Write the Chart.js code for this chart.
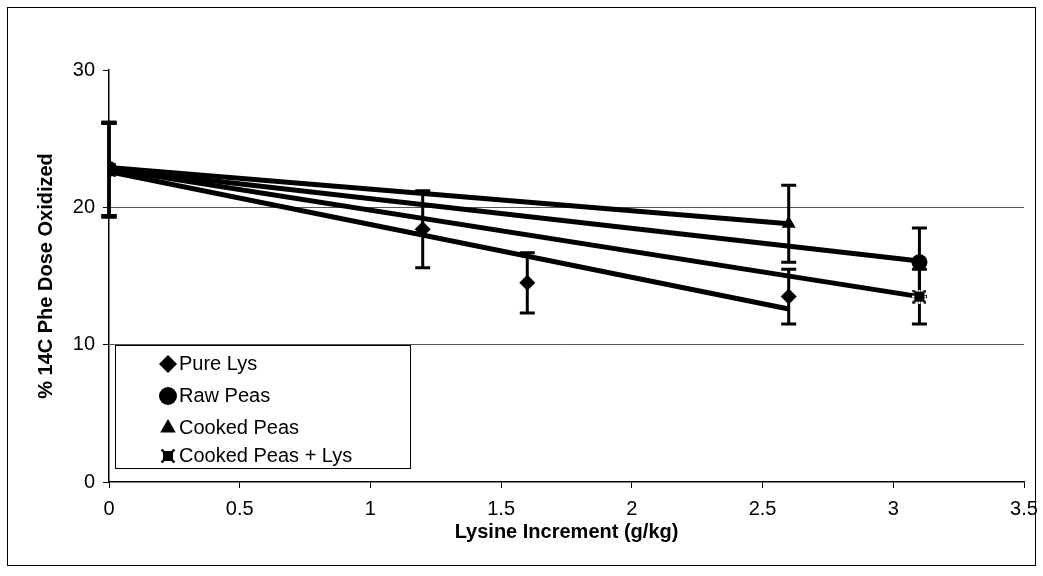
<!DOCTYPE html>
<html>
<head>
<meta charset="utf-8">
<script src="https://cdn.jsdelivr.net/npm/chart.js@4"></script>
<style>
  html, body { margin: 0; padding: 0; background: #fff; }
  #wrap { width: 1043px; height: 576px; position: relative; }
</style>
</head>
<body>
<div id="wrap"><canvas id="c" width="1043" height="576"></canvas></div>
<script>
// ---- data ----
const seriesNames = ['Pure Lys', 'Raw Peas', 'Cooked Peas', 'Cooked Peas + Lys'];

const pureLysX   = [0, 1.2, 1.6, 2.6];
const pureLysY   = [22.7, 18.4, 14.5, 13.5];
const pureLysErr = [3.4, 2.8, 2.2, 2.0];

const rawPeasX   = [0, 3.1];
const rawPeasY   = [22.8, 16.0];
const rawPeasErr = [3.4, 2.5];

const cookedPeasX   = [0, 2.6];
const cookedPeasY   = [22.8, 18.8];
const cookedPeasErr = [3.4, 2.8];

const cookedLysX   = [0, 3.1];
const cookedLysY   = [22.7, 13.5];
const cookedLysErr = [3.4, 2.0];

// trend lines (start / end values)
const pureLysTrendX = [0, 2.6];    const pureLysTrendY = [22.6, 12.6];
const rawPeasTrendX = [0, 3.1];    const rawPeasTrendY = [22.8, 16.1];
const cookedPeasTrendX = [0, 2.6]; const cookedPeasTrendY = [22.9, 18.8];
const cookedLysTrendX = [0, 3.1];  const cookedLysTrendY = [22.8, 13.5];

const xTickLabels = ['0', '0.5', '1', '1.5', '2', '2.5', '3', '3.5'];
const yTickLabels = ['0', '10', '20', '30'];

const xTitle = 'Lysine Increment (g/kg)';
const yTitle = '% 14C Phe Dose Oxidized';

// ---- helpers ----
const FONT = "'Liberation Sans', Arial, sans-serif";
function pts(xs, ys, errs) {
  return xs.map((x, i) => ({ x: x, y: ys[i], e: errs ? errs[i] : 0 }));
}
function makeCross() {
  const c = document.createElement('canvas');
  c.width = 14; c.height = 14;
  const g = c.getContext('2d');
  g.fillStyle = '#000';
  g.fillRect(2, 2, 10, 10);
  g.strokeStyle = '#000';
  g.lineWidth = 2.5;
  g.beginPath();
  g.moveTo(0.5, 0.5); g.lineTo(13.5, 13.5);
  g.moveTo(13.5, 0.5); g.lineTo(0.5, 13.5);
  g.stroke();
  g.fillStyle = '#fff';
  g.fillRect(6, 0, 2, 2); g.fillRect(6, 12, 2, 2);
  g.fillRect(0, 6, 2, 2); g.fillRect(12, 6, 2, 2);
  return c;
}
const crossImg = makeCross();

const markerStyles = ['rectRot', 'circle', 'triangle', crossImg];
const markerRadii = [8, 8, 8, 7];

function scatterDs(label, data, style, r) {
  return {
    type: 'scatter', label: label, data: data, showLine: false,
    pointStyle: style, pointRadius: r, pointHoverRadius: r,
    backgroundColor: '#000', borderColor: '#000', borderWidth: 0,
    isSeries: true, order: 0
  };
}
function trendDs(data) {
  return {
    type: 'line', data: data, showLine: true, pointRadius: 0,
    borderColor: '#000', borderWidth: 5, fill: false, isTrend: true, order: 2
  };
}

const datasets = [
  trendDs(pts(pureLysTrendX, pureLysTrendY)),
  trendDs(pts(rawPeasTrendX, rawPeasTrendY)),
  trendDs(pts(cookedPeasTrendX, cookedPeasTrendY)),
  trendDs(pts(cookedLysTrendX, cookedLysTrendY)),
  scatterDs(seriesNames[0], pts(pureLysX, pureLysY, pureLysErr), markerStyles[0], markerRadii[0]),
  scatterDs(seriesNames[1], pts(rawPeasX, rawPeasY, rawPeasErr), markerStyles[1], markerRadii[1]),
  scatterDs(seriesNames[2], pts(cookedPeasX, cookedPeasY, cookedPeasErr), markerStyles[2], markerRadii[2]),
  scatterDs(seriesNames[3], pts(cookedLysX, cookedLysY, cookedLysErr), markerStyles[3], markerRadii[3])
];

// error bars drawn through the library's scales
const errorBars = {
  id: 'errorBars',
  beforeDatasetsDraw(chart) {
    const ctx = chart.ctx, xs = chart.scales.x, ys = chart.scales.y;
    ctx.save();
    ctx.strokeStyle = '#000';
    ctx.lineWidth = 3;
    chart.data.datasets.forEach(ds => {
      if (!ds.isSeries) return;
      ds.data.forEach(p => {
        if (!p.e) return;
        const px = xs.getPixelForValue(p.x);
        const top = ys.getPixelForValue(p.y + p.e);
        const bot = ys.getPixelForValue(p.y - p.e);
        ctx.beginPath();
        ctx.moveTo(px, top); ctx.lineTo(px, bot);
        ctx.moveTo(px - 7.5, top); ctx.lineTo(px + 7.5, top);
        ctx.moveTo(px - 7.5, bot); ctx.lineTo(px + 7.5, bot);
        ctx.stroke();
      });
    });
    ctx.restore();
  }
};

// outer frame
const frame = {
  id: 'frame',
  beforeDraw(chart) {
    const ctx = chart.ctx;
    ctx.save();
    ctx.fillStyle = '#fff';
    ctx.fillRect(0, 0, chart.width, chart.height);
    ctx.strokeStyle = '#000';
    ctx.lineWidth = 1;
    ctx.strokeRect(7.5, 7.5, 1028, 558);
    ctx.restore();
  }
};

// boxed legend inside the plot area
const boxLegend = {
  id: 'boxLegend',
  afterDraw(chart) {
    const ctx = chart.ctx;
    const x0 = 115.5, y0 = 345.5, w = 295, h = 123;
    ctx.save();
    ctx.fillStyle = '#fff';
    ctx.fillRect(x0, y0, w, h);
    ctx.strokeStyle = '#000';
    ctx.lineWidth = 1;
    ctx.strokeRect(x0, y0, w, h);
    ctx.font = '20px ' + FONT;
    ctx.textBaseline = 'middle';
    const rowY = [364, 396, 428, 456];
    seriesNames.forEach((name, i) => {
      ctx.fillStyle = '#000';
      ctx.strokeStyle = '#000';
      Chart.helpers.drawPoint(ctx, {
        pointStyle: markerStyles[i], radius: markerRadii[i] + 1, rotation: 0, borderWidth: 0
      }, 168, rowY[i]);
      ctx.fillStyle = '#000';
      ctx.fillText(name, 179, rowY[i]);
    });
    ctx.restore();
  }
};

new Chart(document.getElementById('c'), {
  data: { datasets: datasets },
  plugins: [frame, errorBars, boxLegend],
  options: {
    responsive: false,
    animation: false,
    devicePixelRatio: 1,
    layout: { padding: { left: 10, top: 70, right: 19, bottom: 32 } },
    plugins: { legend: { display: false }, tooltip: { enabled: false } },
    elements: { point: { backgroundColor: '#000', borderColor: '#000' } },
    scales: {
      x: {
        type: 'linear', min: 0, max: 3.5,
        afterFit(s) { s.height = 62; s.paddingLeft = 0; s.paddingRight = 0; },
        afterBuildTicks(s) { s.ticks = xTickLabels.map(v => ({ value: parseFloat(v) })); },
        ticks: {
          callback: (v, i) => xTickLabels[i],
          color: '#000', font: { family: FONT, size: 20 }, padding: 9, maxRotation: 0
        },
        grid: { drawOnChartArea: false, drawTicks: true, tickLength: 6, color: '#000', tickColor: '#000' },
        border: { display: true, color: '#000', width: 1.5 },
        title: {
          display: true, text: xTitle, color: '#000',
          font: { family: FONT, size: 20, weight: 'bold' }, padding: { top: 0, bottom: 0 }
        }
      },
      y: {
        type: 'linear', min: 0, max: 30,
        afterFit(s) { s.width = 99; s.paddingTop = 0; s.paddingBottom = 0; },
        afterBuildTicks(s) { s.ticks = yTickLabels.map(v => ({ value: parseFloat(v) })); },
        ticks: {
          callback: (v, i) => yTickLabels[i],
          color: '#000', font: { family: FONT, size: 20 }, padding: 8
        },
        grid: {
          drawTicks: true, tickLength: 6,
          color: c => (c.tick && (c.tick.value === 10 || c.tick.value === 20)) ? '#555' : 'rgba(0,0,0,0)',
          tickColor: '#000', lineWidth: 1
        },
        border: { display: true, color: '#000', width: 1.5 },
        title: {
          display: true, text: yTitle, color: '#000',
          font: { family: FONT, size: 20, weight: 'bold' }, padding: { top: 24, bottom: 0 }
        }
      }
    }
  }
});
</script>
</body>
</html>
